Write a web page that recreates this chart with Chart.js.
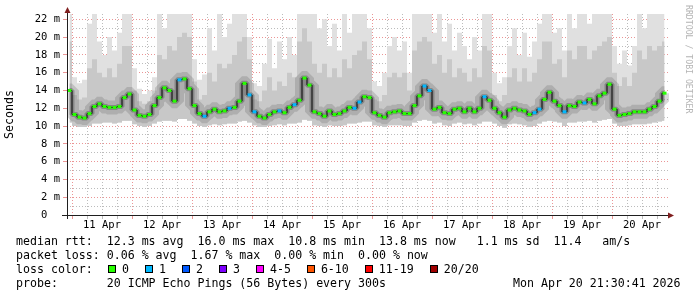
<!DOCTYPE html>
<html>
<head>
<meta charset="utf-8">
<script src="https://cdn.jsdelivr.net/npm/chart.js@4/dist/chart.umd.min.js"></script>
<style>
body { margin:0; background:#fff; overflow:hidden; }
#wrap { position:relative; width:697px; height:297px; }
.t { position:absolute; left:16px; font-family:'DejaVu Sans Mono'; font-size:11.6px; line-height:14px; white-space:pre; color:#000; }
#losskey { position:absolute; left:108px; top:262px; height:14px; display:flex; align-items:center; font-family:'DejaVu Sans Mono'; font-size:11.6px; white-space:pre; }
#losskey span.box { display:inline-block; width:6px; height:6px; border:1px solid #000; margin-right:6px; }
#losskey span.lab { margin-right:16px; }
#wm { position:absolute; left:684px; top:5px; writing-mode:vertical-rl; font-family:'DejaVu Sans Mono'; font-size:8.2px; color:#b4b4b4; white-space:pre; }
</style>
</head>
<body>
<div id="wrap">
<canvas id="smoke" width="697" height="297"></canvas>
<div id="wm">RRDTOOL / TOBI OETIKER</div>
<div class="t" style="top:234px">median rtt:  12.3 ms avg  16.0 ms max  10.8 ms min  13.8 ms now   1.1 ms sd  11.4   am/s</div>
<div class="t" style="top:248px">packet loss: 0.06 % avg  1.67 % max  0.00 % min  0.00 % now</div>
<div class="t" style="top:262px">loss color:</div>
<div id="losskey"></div>
<div class="t" style="top:276px">probe:       20 ICMP Echo Pings (56 Bytes) every 300s</div>
<div class="t" style="top:276px;left:513px">Mon Apr 20 21:30:41 2026</div>
</div>
<script>
// 2 hour steps, first value centred at -1h (hours from 11 Apr 00:00)
var firstHour = -1;
var stepHours = 2;
var days = ['11 Apr','12 Apr','13 Apr','14 Apr','15 Apr','16 Apr','17 Apr','18 Apr','19 Apr','20 Apr'];

var median = [
  14.0, 11.3, 11.0, 10.9, 11.4, 12.2, 12.5, 12.2, 12.1, 12.1, 12.2, 13.2,
  13.6, 11.8, 11.2, 11.1, 11.3, 12.3, 13.2, 14.3, 14.0, 12.8, 15.2, 15.3,
  14.2, 12.3, 11.4, 11.1, 11.6, 11.9, 11.6, 11.7, 12.0, 12.1, 12.8, 14.8,
  13.5, 11.6, 11.1, 10.9, 11.3, 11.6, 11.7, 11.5, 12.1, 12.4, 12.9, 15.4,
  14.6, 11.6, 11.4, 11.1, 11.7, 11.3, 11.4, 11.7, 12.1, 12.0, 12.7, 13.3,
  13.2, 11.5, 11.2, 11.0, 11.5, 11.6, 11.7, 11.4, 11.4, 12.3, 13.4, 14.5,
  14.0, 11.9, 12.1, 11.5, 11.4, 11.9, 12.0, 11.6, 12.0, 11.6, 12.0, 13.3,
  12.9, 12.0, 11.5, 11.0, 11.8, 12.0, 11.8, 11.7, 11.3, 11.5, 11.9, 13.0,
  13.8, 12.8, 12.3, 11.6, 12.3, 12.2, 12.7, 12.6, 13.0, 12.5, 13.4, 13.7,
  14.7, 11.9, 11.2, 11.3, 11.4, 11.6, 11.6, 11.6, 11.9, 12.2, 12.8, 13.7
];
var loss = [
  0,0,0,0,0,0,0,0,0,0,0,0,
  0,0,0,0,0,0,0,0,0,0,1,0,
  0,0,0,1,0,0,0,0,1,0,0,0,
  1,1,0,0,0,0,1,0,0,1,0,0,
  0,0,0,0,0,0,0,0,0,1,1,0,
  0,0,0,0,0,0,0,0,0,0,0,1,
  1,0,0,0,0,0,0,0,0,0,0,1,
  0,0,0,0,0,0,0,0,0,1,1,0,
  0,0,0,1,0,0,0,1,0,0,0,0,
  0,0,0,0,0,0,0,0,0,0,0,0
];
var smokeHi = [
  22.6, 15.5, 14.8, 15.2, 21.5, 22.6, 19.5, 18.0, 20.0, 18.5, 20.5, 22.6,
  22.6, 16.5, 14.2, 13.6, 14.0, 15.5, 22.6, 21.0, 22.6, 22.6, 22.6, 22.6,
  22.6, 17.5, 15.2, 15.8, 21.0, 18.5, 22.6, 20.0, 21.5, 22.6, 22.6, 22.6,
  20.0, 14.8, 14.5, 17.0, 19.8, 16.5, 19.5, 17.5, 20.0, 18.0, 22.6, 22.6,
  22.6, 22.6, 21.0, 22.0, 19.0, 21.5, 18.5, 22.6, 20.5, 22.6, 22.6, 22.6,
  21.0, 15.0, 14.5, 16.0, 19.0, 20.0, 18.5, 19.5, 16.0, 22.6, 22.6, 22.6,
  22.6, 20.5, 22.6, 19.5, 21.5, 18.5, 20.5, 19.0, 17.5, 20.0, 18.5, 22.6,
  22.6, 16.0, 14.8, 15.5, 19.0, 21.0, 18.0, 20.5, 17.8, 19.5, 21.5, 22.6,
  22.6, 20.5, 21.0, 18.5, 22.6, 21.0, 22.6, 22.6, 21.5, 22.6, 22.6, 22.6,
  22.6, 19.0, 17.0, 18.5, 16.8, 19.0, 22.6, 21.0, 22.6, 22.6, 22.6, 22.6
];
var smokeMid = [
  19.5, 13.5, 13.0, 13.2, 16.5, 17.5, 16.0, 15.5, 16.5, 15.5, 17.0, 19.0,
  19.0, 14.0, 12.8, 12.5, 12.8, 14.0, 18.0, 17.5, 19.0, 18.5, 20.0, 20.5,
  20.0, 15.0, 13.0, 13.5, 16.0, 15.0, 17.0, 16.5, 17.0, 18.0, 19.5, 20.0,
  17.5, 13.0, 12.8, 14.0, 15.5, 14.0, 15.0, 14.5, 16.0, 15.5, 19.5, 21.0,
  19.5, 17.0, 16.0, 17.0, 15.5, 16.5, 15.5, 17.5, 16.5, 18.0, 18.5, 19.5,
  17.5, 13.0, 12.8, 13.5, 15.5, 16.0, 15.5, 16.0, 14.0, 18.5, 19.5, 20.0,
  19.5, 17.0, 18.0, 16.0, 17.5, 15.5, 16.5, 16.0, 15.0, 16.5, 15.5, 19.0,
  18.5, 13.5, 12.8, 13.5, 15.5, 16.5, 15.0, 16.5, 15.0, 16.0, 17.5, 19.5,
  19.5, 17.0, 17.5, 15.5, 18.5, 17.5, 19.0, 19.0, 17.5, 18.5, 19.0, 19.5,
  20.0, 16.0, 14.5, 15.5, 14.5, 16.0, 18.5, 17.5, 19.0, 18.5, 19.0, 19.5
];
var smokeLo = [
  10.4, 10.0, 9.9, 9.9, 10.0, 10.3, 10.3, 10.4, 10.4, 10.3, 10.4, 10.6,
  10.6, 10.2, 10.0, 9.9, 10.0, 10.3, 10.5, 10.6, 10.6, 10.5, 10.8, 10.8,
  10.6, 10.3, 10.0, 9.9, 10.1, 10.2, 10.1, 10.2, 10.3, 10.3, 10.5, 10.6,
  10.4, 10.1, 9.9, 9.9, 10.0, 10.1, 10.2, 10.1, 10.3, 10.3, 10.4, 10.7,
  10.6, 10.1, 10.0, 9.9, 10.1, 10.0, 10.0, 10.1, 10.3, 10.3, 10.4, 10.5,
  10.5, 10.1, 10.0, 9.9, 10.1, 10.1, 10.1, 10.0, 10.0, 10.4, 10.6, 10.7,
  10.6, 10.3, 10.4, 10.1, 10.0, 10.3, 10.4, 10.2, 10.3, 10.1, 10.3, 10.5,
  10.5, 10.3, 10.0, 9.8, 10.2, 10.3, 10.2, 10.1, 9.9, 10.0, 10.3, 10.5,
  10.6, 10.5, 10.4, 10.0, 10.4, 10.4, 10.5, 10.5, 10.6, 10.4, 10.6, 10.7,
  10.8, 10.3, 10.0, 10.0, 10.1, 10.2, 10.2, 10.2, 10.3, 10.4, 10.5, 10.6
];

var lossLabels = ['0','1','2','3','4-5','6-10','11-19','20/20'];
var lossColors = ['#26ff00','#00b8ff','#0059ff','#7e00ff','#ff00ff','#ff5500','#ff0000','#a00000'];

function lossColor(n){
  if (n == 0) return lossColors[0];
  if (n <= 3) return lossColors[n];
  if (n <= 5) return lossColors[4];
  if (n <= 10) return lossColors[5];
  if (n <= 19) return lossColors[6];
  return lossColors[7];
}

var hours = [];
for (var i = 0; i < median.length; i++) hours.push(firstHour + i*stepHours);
function pts(vals){
  return vals.map(function(v, i){ return {x: hours[i], y: v}; });
}

// loss key under the graph
var key = document.getElementById('losskey');
for (var k = 0; k < lossLabels.length; k++) {
  var b = document.createElement('span');
  b.className = 'box';
  b.style.background = lossColors[k];
  var l = document.createElement('span');
  l.className = 'lab';
  l.textContent = lossLabels[k];
  key.appendChild(b);
  key.appendChild(l);
}

var majorGrid = 'rgba(222,79,79,0.6)';
var minorGrid = 'rgba(143,143,143,0.6)';
var tickFont = {family:'DejaVu Sans Mono', size:10.5};

var axes = {
  id: 'axes',
  afterDraw: function(chart){
    var ctx = chart.ctx, a = chart.chartArea;
    ctx.save();
    ctx.strokeStyle = '#1f1f1f';
    ctx.lineWidth = 1;
    ctx.beginPath();
    ctx.moveTo(a.left - 5, a.bottom + 0.5);
    ctx.lineTo(a.right, a.bottom + 0.5);
    ctx.moveTo(a.left + 0.5, a.bottom + 4);
    ctx.lineTo(a.left + 0.5, a.top - 2);
    ctx.stroke();
    ctx.fillStyle = '#801f1f';
    ctx.beginPath();
    ctx.moveTo(a.right + 4, a.bottom + 0.5);
    ctx.lineTo(a.right - 2, a.bottom - 2.5);
    ctx.lineTo(a.right - 2, a.bottom + 3.5);
    ctx.fill();
    ctx.beginPath();
    ctx.moveTo(a.left + 0.5, a.top - 7);
    ctx.lineTo(a.left - 2.5, a.top - 1);
    ctx.lineTo(a.left + 3.5, a.top - 1);
    ctx.fill();
    ctx.restore();
  }
};

var ctx = document.getElementById('smoke');
var sp = new Chart(ctx, {
  type: 'line',
  data: {
    datasets: [
      { label:'median', data:pts(median), stepped:'middle', borderColor:'#000', borderWidth:1,
        pointStyle:'line', pointRadius:2, pointBorderWidth:3,
        pointBorderColor:loss.map(lossColor), pointBackgroundColor:loss.map(lossColor),
        fill:false, order:0 },
      { label:'core', data:pts(median), stepped:'middle', borderColor:'rgba(50,50,50,0.32)', borderWidth:5,
        borderJoinStyle:'bevel', pointRadius:0, fill:false, clip:0, order:1 },
      { label:'band', data:pts(median), stepped:'middle', borderColor:'rgba(90,90,90,0.24)', borderWidth:14,
        borderJoinStyle:'bevel', pointRadius:0, fill:false, clip:0, order:2 },
      { label:'mid', data:pts(smokeMid), stepped:'middle', borderWidth:0, pointRadius:0,
        fill:5, backgroundColor:'#c8c8c8', order:3 },
      { label:'hi', data:pts(smokeHi), stepped:'middle', borderWidth:0, pointRadius:0,
        fill:5, backgroundColor:'#e0e0e0', order:4 },
      { label:'lo', data:pts(smokeLo), stepped:'middle', borderWidth:0, pointRadius:0,
        fill:false, order:5 }
    ]
  },
  options: {
    responsive:false,
    animation:false,
    devicePixelRatio:1,
    layout:{ padding:{left:0, right:27, top:14, bottom:0} },
    plugins:{ legend:{display:false}, tooltip:{enabled:false} },
    scales:{
      x:{
        type:'linear', min:-2, max:239.2, z:1,
        afterFit:function(s){ s.height = 82; },
        border:{display:false, dash:[1,2]},
        grid:{
          color:function(c){ return c.tick.value % 24 === 0 ? majorGrid : minorGrid; },
          tickColor:function(c){ return c.tick.value % 24 === 0 ? majorGrid : minorGrid; },
          tickLength:4
        },
        ticks:{
          stepSize:6, includeBounds:false, autoSkip:false, maxRotation:0, minRotation:0,
          padding:0, color:'#000', font:tickFont,
          callback:function(v){ return v % 24 === 12 ? days[(v - 12)/24] : ''; }
        }
      },
      y:{
        min:0, max:22.6, z:1,
        afterFit:function(s){ s.width = 67; },
        border:{display:false, dash:[1,2]},
        grid:{
          color:function(c){ return c.tick.value % 2 === 0 ? majorGrid : minorGrid; },
          tickColor:function(c){ return c.tick.value % 2 === 0 ? majorGrid : 'rgba(0,0,0,0)'; },
          tickLength:4
        },
        title:{ display:true, text:'Seconds', color:'#000', padding:{top:3, bottom:0},
          font:{family:'DejaVu Sans Mono', size:11.6} },
        ticks:{
          stepSize:1, includeBounds:false, autoSkip:false, padding:3, color:'#000', font:tickFont,
          callback:function(v){ if (v % 2 !== 0) return ''; return v === 0 ? '0  ' : v + ' m'; }
        }
      }
    }
  },
  plugins:[axes]
});
</script>
</body>
</html>
